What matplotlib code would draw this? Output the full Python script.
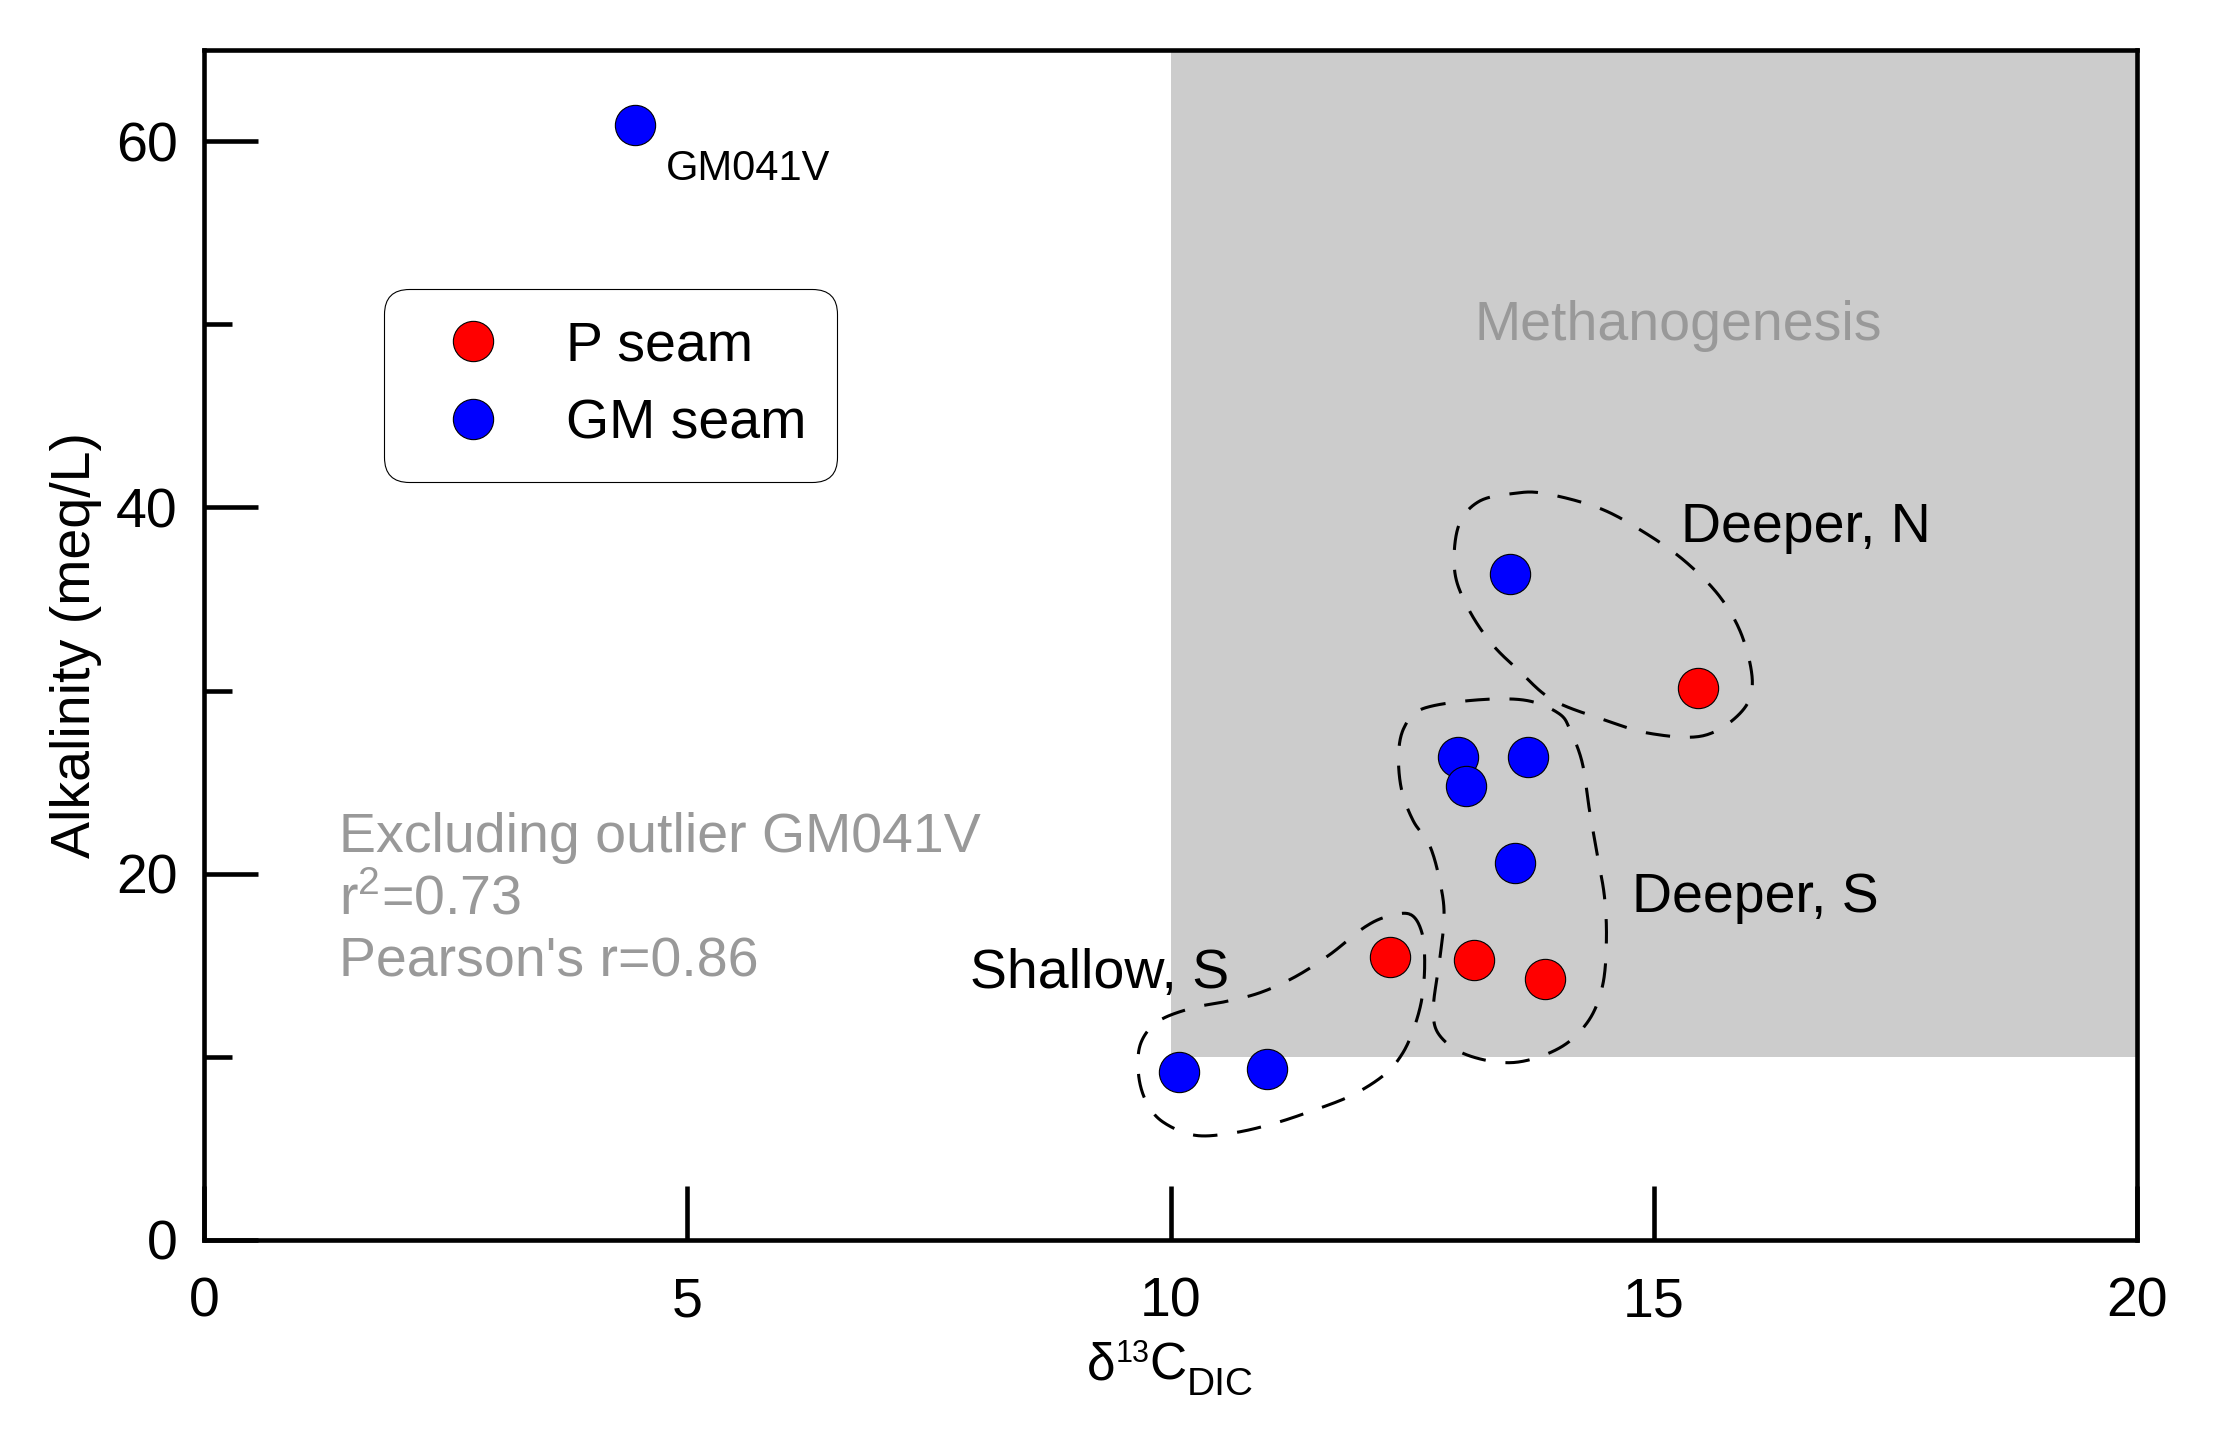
import numpy as np
import matplotlib
matplotlib.use('Agg')
import matplotlib.pyplot as plt
from matplotlib.patches import Rectangle
from matplotlib.transforms import IdentityTransform

plt.rcParams['font.family'] = ['Liberation Sans', 'DejaVu Sans']
plt.rcParams['mathtext.fontset'] = 'custom'
plt.rcParams['mathtext.rm'] = 'Liberation Sans'
plt.rcParams['mathtext.it'] = 'Liberation Sans:italic'

# P seam samples (red)
p_seam_d13c = [15.46, 12.27, 13.14, 13.87]
p_seam_alk = [30.15, 15.45, 15.3, 14.25]

# GM seam samples (blue), first one is the outlier GM041V
gm_seam_d13c = [4.46, 13.51, 12.97, 13.06, 13.70, 13.56, 10.09, 11.0]
gm_seam_alk = [60.9, 36.35, 26.35, 24.8, 26.35, 20.6, 9.17, 9.33]

# methanogenesis zone
methano_x = (10, 20)
methano_y = (10, 65)

# hand drawn group outlines
deeper_n_x = [13.55, 13.87, 14.44, 14.91, 15.33, 15.69, 15.92, 16.02, 15.89, 15.51,
              14.97, 14.50, 13.96, 13.61, 13.31, 13.07, 12.94, 12.98, 13.19]
deeper_n_y = [40.76, 40.76, 39.95, 38.61, 37.03, 35.08, 32.89, 30.33, 28.74, 27.53,
              27.65, 28.38, 29.47, 31.06, 32.64, 34.59, 36.54, 38.98, 40.32]

deeper_s_x = [12.60, 13.13, 13.67, 14.02, 14.14, 14.26, 14.33, 14.41, 14.49, 14.51,
              14.47, 14.32, 14.02, 13.55, 13.07, 12.78, 12.72, 12.78, 12.83, 12.80,
              12.69, 12.51, 12.39, 12.36, 12.42]
deeper_s_y = [28.99, 29.47, 29.47, 28.74, 27.77, 26.06, 23.63, 21.19, 18.75, 16.32,
              13.88, 11.93, 10.47, 9.69, 10.10, 11.20, 12.66, 15.10, 17.53, 19.24,
              21.43, 22.90, 24.60, 26.55, 28.01]

shallow_s_x = [12.48, 12.60, 12.63, 12.60, 12.51, 12.39, 12.21, 11.88, 11.47, 11.05,
               10.64, 10.25, 9.92, 9.75, 9.67, 9.69, 9.87, 10.22, 10.58, 10.93,
               11.29, 11.65, 12.00, 12.24]
shallow_s_y = [17.78, 16.80, 15.10, 13.15, 11.44, 10.10, 9.01, 7.91, 7.06, 6.33,
               5.84, 5.72, 6.45, 7.54, 9.01, 10.71, 11.93, 12.66, 13.03, 13.51,
               14.37, 15.59, 17.05, 17.66]

stats_lines = ['Excluding outlier GM041V', r'r$^\mathregular{2}$=0.73', "Pearson's r=0.86"]


def smooth_closed(xs, ys, n=20):
    # periodic catmull-rom through the traced points
    p = np.column_stack([xs, ys])
    k = len(p)
    t = np.linspace(0, 1, n, endpoint=False)[:, None]
    segs = []
    for i in range(k):
        p0, p1, p2, p3 = p[(i - 1) % k], p[i], p[(i + 1) % k], p[(i + 2) % k]
        segs.append(0.5 * (2 * p1 + (-p0 + p2) * t + (2 * p0 - 5 * p1 + 4 * p2 - p3) * t ** 2
                           + (-p0 + 3 * p1 - 3 * p2 + p3) * t ** 3))
    out = np.vstack(segs + [segs[0][:1]])
    return out[:, 0], out[:, 1]


fig = plt.figure(figsize=(22.17, 14.4), dpi=100)
ax = fig.add_axes([204 / 2217, 200 / 1440, 1933 / 2217, 1190.5 / 1440])

ax.add_patch(Rectangle((methano_x[0], methano_y[0]), methano_x[1] - methano_x[0],
                       methano_y[1] - methano_y[0], facecolor='#cccccc', edgecolor='none', zorder=0))

for xs, ys in [(deeper_n_x, deeper_n_y), (deeper_s_x, deeper_s_y), (shallow_s_x, shallow_s_y)]:
    sx, sy = smooth_closed(xs, ys)
    ax.plot(sx, sy, color='black', lw=2.2, ls=(0, (8, 6.5)), zorder=2)

p_line, = ax.plot(p_seam_d13c, p_seam_alk, ls='none', marker='o', ms=29, mfc='#ff0000',
                  mec='black', mew=0.8, zorder=3, label='P seam')
gm_line, = ax.plot(gm_seam_d13c, gm_seam_alk, ls='none', marker='o', ms=29, mfc='#0000ff',
                   mec='black', mew=0.8, zorder=3, label='GM seam')

ax.set_xlim(0, 20)
ax.set_ylim(0, 65)
ax.set_xticks([0, 5, 10, 15, 20])
ax.set_yticks([0, 20, 40, 60])
ax.set_yticks([10, 30, 50], minor=True)
ax.tick_params(which='both', direction='in', width=3.3, labelsize=40, top=False, right=False)
ax.tick_params(which='major', length=39)
ax.tick_params(which='minor', length=20)
ax.tick_params(axis='x', pad=26)
ax.tick_params(axis='y', pad=19)
for sp in ax.spines.values():
    sp.set_linewidth(3.3)

ax.set_ylabel('Alkalinity (meq/L)', fontsize=40)
ax.yaxis.set_label_coords(-0.053, 0.5)

# annotations
ax.text(4.78, 57.9, 'GM041V', fontsize=30, va='baseline')
ax.text(15.25, 49.16, 'Methanogenesis', fontsize=40, color='#999999', ha='center', va='baseline')
ax.text(15.28, 38.13, 'Deeper, N', fontsize=40, va='baseline')
ax.text(14.78, 17.9, 'Deeper, S', fontsize=40, va='baseline')
ax.text(7.93, 13.74, 'Shallow, S', fontsize=40, va='baseline')
for line, yb in zip(stats_lines, [21.18, 17.76, 14.41]):
    ax.text(1.395, yb, line, fontsize=40, color='#999999', va='baseline')

leg = ax.legend(handles=[p_line, gm_line], loc='upper left', bbox_to_anchor=(0.093, 0.7986),
                borderaxespad=0, borderpad=0.56, labelspacing=0.47, handlelength=2.09,
                handletextpad=0.63, fontsize=40, fancybox=True, framealpha=1)
frame = leg.get_frame()
frame.set_edgecolor('black')
frame.set_linewidth(0.8)
frame.set_boxstyle('round', pad=0, rounding_size=0.45)

# x label built from pieces: delta, superscript 13, C, subscript DIC
renderer = fig.canvas.get_renderer()
pieces = [('\u03b4', 37, 60), ('13', 22, 78), ('C', 37, 60), ('DIC', 28, 45)]
texts = []
xpos = 0
for s, size, yb in pieces:
    t = fig.text(xpos, yb, s, fontsize=size, va='baseline', transform=IdentityTransform())
    w = t.get_window_extent(renderer).width
    texts.append((t, xpos, yb))
    xpos += w
start = 1170.5 - xpos / 2
for t, x0, yb in texts:
    t.set_position((start + x0, yb))

fig.savefig('out.png', dpi=100)
